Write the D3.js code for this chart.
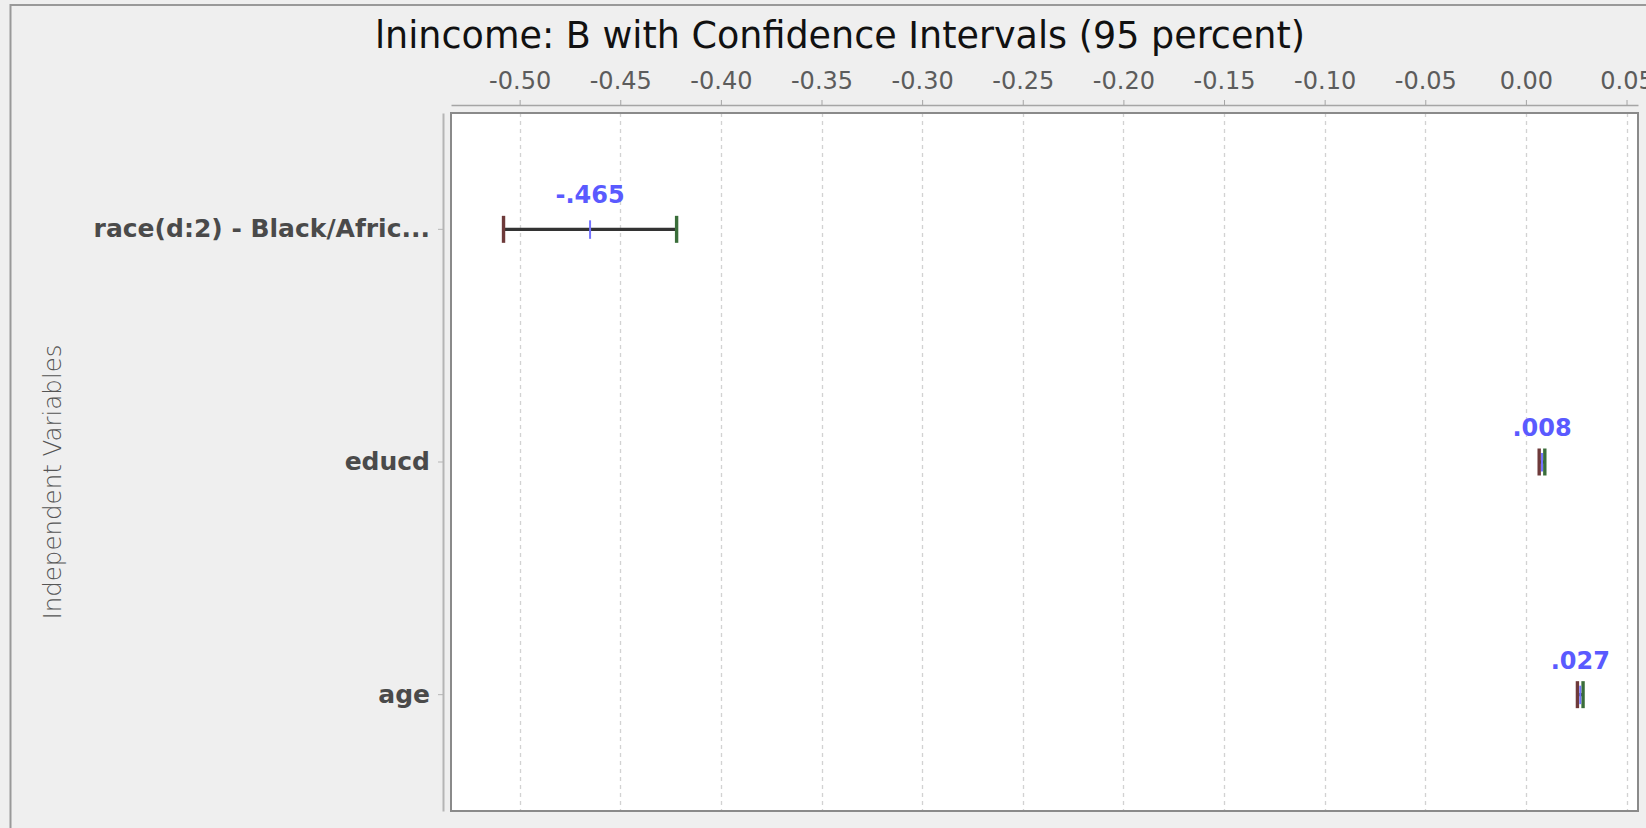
<!DOCTYPE html>
<html>
<head>
<meta charset="utf-8">
<script src="https://cdn.jsdelivr.net/npm/d3@7"></script>
<style>
  body { margin: 0; background: #efefef; }
  text { font-family: "DejaVu Sans", sans-serif; }
</style>
</head>
<body>
<div id="chart-display"></div>
<script>
// values
const categories = ["race(d:2) - Black/Afric...", "educd", "age"];
const estimates = [-0.465, 0.008, 0.027];
const lowerCI = [-0.508, 0.0066, 0.0256];
const upperCI = [-0.422, 0.0094, 0.0284];
const estLabels = ["-.465", ".008", ".027"];
const xTicks = [-0.50, -0.45, -0.40, -0.35, -0.30, -0.25, -0.20, -0.15, -0.10, -0.05, 0.00, 0.05];

const titleText = "lnincome: B with Confidence Intervals (95 percent)";
const yTitle = "Independent Variables";

let width = 1646,
    height = 828;

let plot = {left: 451, right: 1638, top: 113, bottom: 811};

let rows = categories.map((c, i) => ({
    name: c,
    est: estimates[i],
    lo: lowerCI[i],
    hi: upperCI[i],
    label: estLabels[i]
}));

let svg = d3.select('#chart-display')
    .append('svg')
    .attr('width', width)
    .attr('height', height)
    .style('display', 'block')
    .style('background-color', '#efefef');

// outer chart border (only top + left show in the crop)
svg.append('path')
    .attr('d', `M10.5,${height} V5 H${width}`)
    .attr('fill', 'none')
    .attr('stroke', '#999')
    .attr('stroke-width', 2);

let x = d3.scaleLinear()
    .domain([-0.5341, 0.0557])
    .range([plot.left, plot.right]);

let y = d3.scaleBand()
    .domain(categories)
    .range([plot.top, plot.bottom]);

// plot background
svg.append('rect')
    .attr('x', plot.left)
    .attr('y', plot.top)
    .attr('width', plot.right - plot.left)
    .attr('height', plot.bottom - plot.top)
    .attr('fill', '#fff');

// dashed grid
svg.append('g')
    .attr('class', 'grid')
    .selectAll('line')
    .data(xTicks)
    .enter()
    .append('line')
    .attr('x1', d => Math.round(x(d)) + 0.5)
    .attr('x2', d => Math.round(x(d)) + 0.5)
    .attr('y1', plot.top)
    .attr('y2', plot.bottom)
    .attr('stroke', '#d2d2d2')
    .attr('stroke-width', 1.3)
    .attr('stroke-dasharray', '4,4');

// plot frame
svg.append('rect')
    .attr('x', plot.left)
    .attr('y', plot.top)
    .attr('width', plot.right - plot.left)
    .attr('height', plot.bottom - plot.top)
    .attr('fill', 'none')
    .attr('stroke', '#8a8a8a')
    .attr('stroke-width', 2);

// top axis
let xAxis = svg.append('g')
    .attr('transform', 'translate(0,105)')
    .call(d3.axisTop(x)
        .tickValues(xTicks)
        .tickFormat(d => d.toFixed(2))
        .tickSize(5)
        .tickSizeOuter(0)
        .tickPadding(11));

xAxis.select('.domain').attr('stroke', '#a5a5a5').attr('stroke-width', 1.5);
xAxis.selectAll('.tick line').attr('stroke', '#a5a5a5');
xAxis.selectAll('.tick text')
    .style('font-family', '"DejaVu Sans", sans-serif')
    .style('font-size', '24px')
    .attr('fill', '#5c5c5c');

// left axis with category names
let yAxis = svg.append('g')
    .attr('transform', 'translate(443,0)')
    .call(d3.axisLeft(y)
        .tickSize(5)
        .tickSizeOuter(0)
        .tickPadding(8));

yAxis.select('.domain').attr('stroke', '#b5b5b5').attr('stroke-width', 2);
yAxis.selectAll('.tick line').attr('stroke', '#b5b5b5');
yAxis.selectAll('.tick text')
    .style('font-family', '"DejaVu Sans", sans-serif')
    .style('font-size', '25px')
    .style('font-weight', 'bold')
    .attr('fill', '#4a4a4a');

let cy = d => y(d.name) + y.bandwidth() / 2;

let bars = svg.append('g')
    .attr('class', 'ci')
    .selectAll('g')
    .data(rows)
    .enter()
    .append('g');

bars.append('line')
    .attr('x1', d => x(d.lo))
    .attr('x2', d => x(d.hi))
    .attr('y1', cy)
    .attr('y2', cy)
    .attr('stroke', '#333')
    .attr('stroke-width', 3.2);

bars.append('line')
    .attr('x1', d => x(d.lo))
    .attr('x2', d => x(d.lo))
    .attr('y1', d => cy(d) - 13.5)
    .attr('y2', d => cy(d) + 13.5)
    .attr('stroke', '#6e3a3a')
    .attr('stroke-width', 3.4);

bars.append('line')
    .attr('x1', d => x(d.hi))
    .attr('x2', d => x(d.hi))
    .attr('y1', d => cy(d) - 13.5)
    .attr('y2', d => cy(d) + 13.5)
    .attr('stroke', '#3a6e3a')
    .attr('stroke-width', 3.4);

bars.append('line')
    .attr('x1', d => x(d.est))
    .attr('x2', d => x(d.est))
    .attr('y1', d => cy(d) - 9)
    .attr('y2', d => cy(d) + 9.5)
    .attr('stroke', '#7474ff')
    .attr('stroke-width', 2);

bars.append('text')
    .attr('x', d => x(d.est))
    .attr('y', d => cy(d) - 26)
    .attr('text-anchor', 'middle')
    .style('font-size', '24px')
    .style('font-weight', 'bold')
    .attr('fill', '#5a5aff')
    .text(d => d.label);

// title
svg.append('text')
    .attr('x', 840)
    .attr('y', 48)
    .attr('text-anchor', 'middle')
    .style('font-size', '36.5px')
    .attr('fill', '#111')
    .text(titleText);

// y axis title
svg.append('text')
    .attr('transform', 'translate(52,482) rotate(-90)')
    .attr('text-anchor', 'middle')
    .attr('dominant-baseline', 'central')
    .style('font-size', '24.5px')
    .style('font-weight', '300')
    .attr('fill', '#555')
    .text(yTitle);
</script>
</body>
</html>
